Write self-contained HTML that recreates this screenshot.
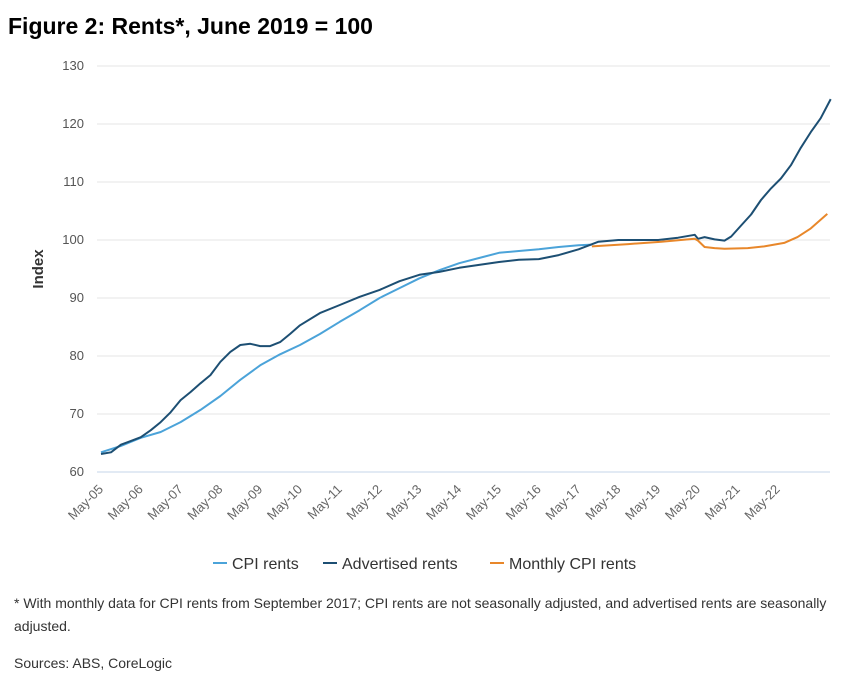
<!DOCTYPE html>
<html><head><meta charset="utf-8"><style>
body{margin:0;background:#fff;width:846px;height:692px;overflow:hidden;font-family:"Liberation Sans",sans-serif}
#title{position:absolute;left:8px;top:13px;font-size:23px;font-weight:bold;color:#000}
#note{position:absolute;left:14px;top:592px;width:815px;font-size:14px;line-height:23px;color:#333}
#src{position:absolute;left:14px;top:655px;font-size:14px;color:#333}
svg{position:absolute;left:0;top:0}
</style></head><body>
<div id="title">Figure 2: Rents*, June 2019 = 100</div>
<svg id="chart" width="846" height="692"></svg>
<div id="note">* With monthly data for CPI rents from September 2017; CPI rents are not seasonally adjusted, and advertised rents are seasonally adjusted.</div>
<div id="src">Sources: ABS, CoreLogic</div>
<script>
const yTicks=[60,70,80,90,100,110,120,130];
const xTickLabels=["May-05","May-06","May-07","May-08","May-09","May-10","May-11","May-12","May-13","May-14","May-15","May-16","May-17","May-18","May-19","May-20","May-21","May-22"];
const cpiDates=["2005-05","2005-11","2006-05","2006-11","2007-05","2007-11","2008-05","2008-11","2009-05","2009-11","2010-05","2010-11","2011-05","2011-11","2012-05","2012-11","2013-05","2013-11","2014-05","2014-11","2015-05","2015-11","2016-05","2016-11","2017-05","2017-09"];
const cpiValues=[63.4,64.5,65.9,66.9,68.6,70.7,73.1,75.9,78.4,80.3,81.9,83.8,85.9,87.9,90.0,91.7,93.4,94.8,96.0,96.9,97.8,98.1,98.4,98.8,99.1,99.2];
const advDates=["2005-05","2005-08","2005-11","2006-05","2006-08","2006-11","2007-02","2007-05","2007-08","2007-11","2008-02","2008-05","2008-08","2008-11","2009-02","2009-05","2009-08","2009-11","2010-02","2010-05","2010-11","2011-05","2011-11","2012-05","2012-11","2013-05","2013-11","2014-05","2014-11","2015-05","2015-11","2016-05","2016-11","2017-05","2017-11","2018-05","2018-11","2019-05","2019-11","2020-04","2020-05","2020-07","2020-10","2021-01","2021-03","2021-06","2021-09","2021-12","2022-03","2022-06","2022-09","2022-12","2023-03","2023-06","2023-09"];
const advValues=[63.1,63.4,64.7,66.0,67.2,68.6,70.3,72.4,73.8,75.3,76.7,79.0,80.7,81.9,82.1,81.7,81.7,82.4,83.8,85.3,87.4,88.8,90.2,91.4,92.9,94.0,94.5,95.2,95.7,96.2,96.6,96.7,97.4,98.4,99.7,100.0,100.0,100.0,100.4,100.9,100.2,100.5,100.1,99.9,100.6,102.5,104.4,106.9,108.9,110.6,112.9,115.9,118.6,121.0,124.3];
const monDates=["2017-09","2018-08","2019-06","2020-04","2020-05","2020-07","2020-10","2021-01","2021-08","2022-01","2022-07","2022-11","2023-03","2023-08"];
const monValues=[98.9,99.3,99.7,100.2,99.9,98.8,98.6,98.5,98.6,98.9,99.5,100.5,102.0,104.5];

const svg=document.getElementById('chart');const NS="http://www.w3.org/2000/svg";
const X0=101,PXY=39.8;
function months(d){const [y,m]=d.split('-').map(Number);return (y-2005)*12+(m-5);}
function xs(d){return X0+months(d)/12*PXY;}
function ys(v){return 472-(v-60)*5.8;}
function el(t,a){const e=document.createElementNS(NS,t);for(const k in a)e.setAttribute(k,a[k]);svg.appendChild(e);return e;}
yTicks.forEach(v=>{
 const l=el('line',{x1:97,x2:830,y1:ys(v),y2:ys(v),stroke:v===60?'#c5d5ea':'#e6e6e6','stroke-width':1});
 
 
 const t=el('text',{x:84,y:ys(v)+4,'text-anchor':'end','font-size':13,fill:'#555'});t.textContent=v;
 
 
});
xTickLabels.forEach((s,i)=>{
 const x=X0+i*PXY+3;
 const t=el('text',{x:x,y:490,'text-anchor':'end','font-size':13,fill:'#666',transform:`rotate(-45 ${x} 490)`});t.textContent=s;
 
 
});
const yt=el('text',{x:43,y:269,'text-anchor':'middle','font-size':15,'font-weight':'bold',fill:'#333',transform:'rotate(-90 43 269)'});yt.textContent='Index';


function line(d,v,c,name){
 const p=el('path',{d:d.map((dd,i)=>(i?'L':'M')+xs(dd).toFixed(1)+','+ys(v[i]).toFixed(1)).join(''),fill:'none',stroke:c,'stroke-width':2,'stroke-linejoin':'round'});
 
 
}
line(cpiDates,cpiValues,'#4ba3d9','series-cpi-rents');
line(advDates,advValues,'#1d4f73','series-advertised-rents');
line(monDates,monValues,'#e8872a','series-monthly-cpi-rents');
const leg=[["CPI rents","#4ba3d9",213],["Advertised rents","#1d4f73",323],["Monthly CPI rents","#e8872a",490]];
leg.forEach(([s,c,x])=>{
 const l=el('line',{x1:x,x2:x+14,y1:563,y2:563,stroke:c,'stroke-width':2});
 
 
 const t=el('text',{x:x+19,y:569,'font-size':16,fill:'#333'});t.textContent=s;
 
 
});
</script>
</body></html>
